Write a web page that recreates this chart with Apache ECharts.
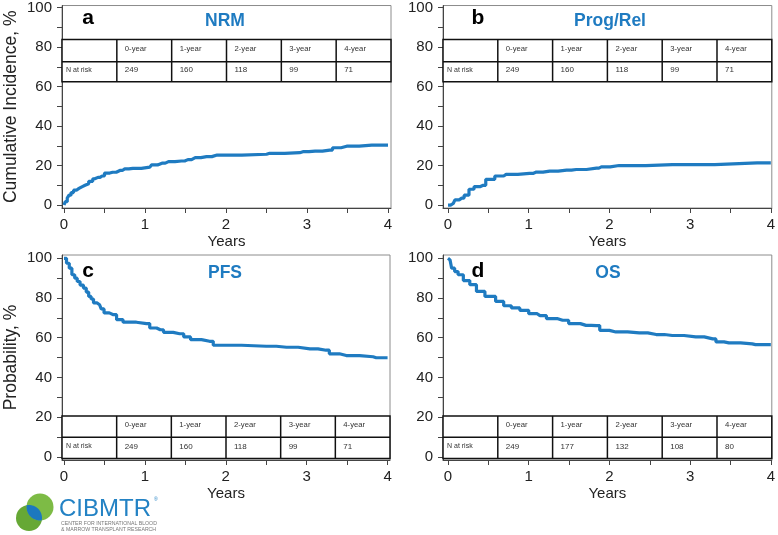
<!DOCTYPE html>
<html><head><meta charset="utf-8">
<script src="https://cdn.jsdelivr.net/npm/echarts@6/dist/echarts.min.js"></script>
<style>html,body{margin:0;padding:0;background:#fff}#c{width:778px;height:535px}</style>
</head><body><div id="c"></div>
<script>
const FONT = '"Liberation Sans", Arial, Helvetica, sans-serif';
const BLUE = '#1f7bc1';

// ---------- data ----------
const xLabelValues = [0, 1, 2, 3, 4];
const xTickValues = [0, 0.5, 1, 1.5, 2, 2.5, 3, 3.5, 4];
const yLabelValues = [0, 20, 40, 60, 80, 100];
const yTickValues = [0, 10, 20, 30, 40, 50, 60, 70, 80, 90, 100];
const xName = 'Years';
const yNameTop = 'Cumulative Incidence, %';
const yNameBottom = 'Probability, %';
const panelLetters = ['a', 'b', 'c', 'd'];
const panelTitles = ['NRM', 'Prog/Rel', 'PFS', 'OS'];
const riskHeaders = ['0-year', '1-year', '2-year', '3-year', '4-year'];
const riskRowLabel = 'N at risk';

const nrmYears  = [0, 0.03, 0.05, 0.074, 0.1, 0.136, 0.17, 0.2, 0.24, 0.28, 0.33, 0.38, 0.42, 0.47, 0.53, 0.6, 0.69, 0.75, 0.85, 1.06, 1.10, 1.21, 1.29, 1.45, 1.53, 1.62, 1.76, 1.89, 2.5, 2.54, 2.91, 2.95, 3.10, 3.28, 3.35, 3.49, 3.80, 4.0];
const nrmValues = [0, 1.7, 3.5, 5, 6.3, 7.5, 8.4, 9.2, 10, 10.8, 12, 13.3, 14, 14.7, 16.2, 16.6, 17.5, 18.3, 18.6, 19.2, 20.3, 21.2, 22, 22.3, 23, 24, 24.5, 25.3, 25.7, 26.2, 26.5, 27, 27.3, 27.8, 29, 29.8, 30.3, 30.3];

const progYears  = [0, 0.065, 0.107, 0.17, 0.23, 0.29, 0.355, 0.436, 0.50, 0.66, 0.72, 1.01, 1.095, 1.26, 1.47, 1.59, 1.84, 1.90, 2.12, 2.78, 3.83, 4.0];
const progValues = [0, 0.8, 2.6, 3.5, 5, 8, 9.3, 10, 13, 14.7, 15.5, 16, 16.7, 17.2, 17.7, 18, 18.7, 19.3, 20, 20.5, 21.3, 21.3];

const pfsYears  = [0, 0.012, 0.05, 0.08, 0.115, 0.15, 0.177, 0.22, 0.26, 0.29, 0.32, 0.35, 0.38, 0.44, 0.48, 0.51, 0.61, 0.69, 0.77, 1.02, 1.10, 1.19, 1.27, 1.43, 1.53, 1.60, 1.80, 1.89, 2.50, 2.75, 3.04, 3.24, 3.32, 3.49, 3.82, 3.86, 4.0];
const pfsValues = [100, 100, 97.5, 95, 91.7, 90, 88.3, 86.5, 85, 83, 80.8, 79.5, 77.5, 76.6, 74.5, 72.5, 71.6, 69.1, 67.8, 67.1, 64.9, 64, 62.7, 62, 60.4, 59, 58.2, 56.2, 55.7, 55.2, 54.4, 53.7, 51.9, 51, 50.4, 49.9, 49.9];

const osYears  = [0, 0.025, 0.065, 0.1, 0.15, 0.23, 0.31, 0.395, 0.52, 0.66, 0.72, 0.85, 0.93, 1.07, 1.14, 1.30, 1.42, 1.57, 1.71, 1.84, 1.92, 2.08, 2.37, 2.58, 2.78, 3.07, 3.28, 3.36, 3.48, 3.77, 3.81, 4.0];
const osValues = [100, 99.2, 95, 93.3, 91.7, 88.8, 86.7, 83.3, 80.8, 78.3, 76.1, 75, 73.8, 72.1, 71.1, 69.6, 68.8, 67.1, 66.2, 66.1, 63.7, 62.9, 62.4, 61.6, 61.1, 60.4, 59.4, 57.9, 57.4, 56.9, 56.5, 56.5];

const nrmRisk  = [249, 160, 118, 99, 71];
const progRisk = [249, 160, 118, 99, 71];
const pfsRisk  = [249, 160, 118, 99, 71];
const osRisk   = [249, 177, 132, 108, 80];

// ---------- layout ----------
const panels = [
  { years: nrmYears, values: nrmValues, risk: nrmRisk, grid: { left: 62, top: 4, width: 329, height: 204 }, x: [-0.0247, 4.037], y: [-1.5, 101], rows: [83.8, 72.6, 62.4], yName: yNameTop, letter: [88, 18], title: [225, 21] },
  { years: progYears, values: progValues, risk: progRisk, grid: { left: 443, top: 4, width: 330, height: 204 }, x: [-0.062, 4.012], y: [-1.5, 101], rows: [83.8, 72.6, 62.4], yName: '', letter: [478, 18], title: [610, 21] },
  { years: pfsYears, values: pfsValues, risk: pfsRisk, grid: { left: 62, top: 255, width: 328, height: 205 }, x: [-0.0247, 4.03], y: [-1.6, 101.66], rows: [20.6, 9.8, -0.8], yName: yNameBottom, letter: [88, 271], title: [225, 273] },
  { years: osYears, values: osValues, risk: osRisk, grid: { left: 443, top: 255, width: 330, height: 205 }, x: [-0.062, 4.012], y: [-1.6, 101.66], rows: [20.6, 9.8, -0.8], yName: '', letter: [478, 271], title: [608, 273] }
];

function tableRenderer(rowEdges, risk) {
  return function (params, api) {
    const cs = params.coordSys;
    const x0 = cs.x, w = cs.width, cw = w / 6;
    const yT = api.coord([0, rowEdges[0]])[1];
    const yM = api.coord([0, rowEdges[1]])[1];
    const yB = api.coord([0, rowEdges[2]])[1];
    const ls = { stroke: '#111', lineWidth: 1.5 };
    const ch = [];
    ch.push({ type: 'rect', shape: { x: x0, y: yT, width: w, height: yB - yT }, style: { fill: '#fff', stroke: '#111', lineWidth: 1.5 } });
    ch.push({ type: 'line', shape: { x1: x0, y1: yM, x2: x0 + w, y2: yM }, style: ls });
    for (let k = 1; k < 6; k++) {
      ch.push({ type: 'line', shape: { x1: x0 + k * cw, y1: yT, x2: x0 + k * cw, y2: yB }, style: ls });
    }
    ch.push({ type: 'text', x: x0 + 4, y: (yM + yB) / 2 - 1.5, style: { text: riskRowLabel, font: '7px ' + FONT, fill: '#333', textAlign: 'left', textVerticalAlign: 'middle', verticalAlign: 'middle' } });
    for (let k = 0; k < 5; k++) {
      const tx = x0 + (k + 1) * cw + 8;
      ch.push({ type: 'text', x: tx, y: (yT + yM) / 2 - 1.5, style: { text: riskHeaders[k], font: '7.7px ' + FONT, fill: '#333', textAlign: 'left', textVerticalAlign: 'middle', verticalAlign: 'middle' } });
      ch.push({ type: 'text', x: tx, y: (yM + yB) / 2 - 1.5, style: { text: String(risk[k]), font: '8px ' + FONT, fill: '#333', textAlign: 'left', textVerticalAlign: 'middle', verticalAlign: 'middle' } });
    }
    return { type: 'group', children: ch };
  };
}

const grids = [], xAxes = [], yAxes = [], series = [], graphics = [];
panels.forEach((p, i) => {
  grids.push(Object.assign({ show: true, borderColor: '#8c8c8c', borderWidth: 1, backgroundColor: 'transparent', containLabel: false }, p.grid));
  xAxes.push({
    gridIndex: i, type: 'value', min: p.x[0], max: p.x[1],
    axisLine: { show: true, onZero: false, lineStyle: { color: '#444', width: 1 } },
    axisTick: { show: true, length: 5, customValues: xTickValues, lineStyle: { color: '#444' } },
    axisLabel: { customValues: xLabelValues, fontSize: 15, color: '#222', margin: 9, fontFamily: FONT },
    splitLine: { show: false },
    name: xName, nameLocation: 'middle', nameGap: 26,
    nameTextStyle: { fontSize: 15, color: '#222', fontFamily: FONT }
  });
  yAxes.push({
    gridIndex: i, type: 'value', min: p.y[0], max: p.y[1],
    axisLine: { show: true, onZero: false, lineStyle: { color: '#444', width: 1 } },
    axisTick: { show: true, length: 5, customValues: yTickValues, lineStyle: { color: '#444' } },
    axisLabel: { customValues: yLabelValues, fontSize: 15, color: '#222', margin: 10, fontFamily: FONT },
    splitLine: { show: false },
    name: p.yName, nameLocation: 'middle', nameGap: 42, nameRotate: 90,
    nameTextStyle: { fontSize: 17.5, color: '#222', fontFamily: FONT }
  });
  series.push({
    type: 'line', xAxisIndex: i, yAxisIndex: i, step: 'middle', showSymbol: false, symbol: 'none',
    data: p.years.map((t, k) => [t, p.values[k]]),
    lineStyle: { color: BLUE, width: 3.2 }, z: 3, silent: true, animation: false
  });
  series.push({
    type: 'custom', xAxisIndex: i, yAxisIndex: i, data: [[0, 50]], clip: false, z: 5, silent: true,
    renderItem: tableRenderer(p.rows, p.risk), animation: false
  });
  graphics.push({ type: 'text', x: p.letter[0], y: p.letter[1], style: { text: panelLetters[i], font: 'bold 21px ' + FONT, fill: '#000', textAlign: 'center', textVerticalAlign: 'middle', verticalAlign: 'middle' }, z: 10 });
  graphics.push({ type: 'text', x: p.title[0], y: p.title[1], style: { text: panelTitles[i], font: 'bold 17.5px ' + FONT, fill: BLUE, textAlign: 'center', textVerticalAlign: 'middle', verticalAlign: 'middle' }, z: 10 });
});

// CIBMTR logo (two circles and their overlap lens)
const c1 = { cx: 29, cy: 518, r: 13 }, c2 = { cx: 40, cy: 507, r: 13.5 };
function lensPoints() {
  const pts = [];
  const mx = (c1.cx + c2.cx) / 2, my = (c1.cy + c2.cy) / 2;
  const inside = (c, x, y) => (x - c.cx) ** 2 + (y - c.cy) ** 2 <= c.r * c.r + 0.01;
  [[c1, c2], [c2, c1]].forEach(([a, b]) => {
    for (let d = 0; d < 360; d += 3) {
      const r = d * Math.PI / 180;
      const x = a.cx + a.r * Math.cos(r), y = a.cy + a.r * Math.sin(r);
      if (inside(b, x, y)) pts.push([x, y, Math.atan2(y - my, x - mx)]);
    }
  });
  pts.sort((p, q) => p[2] - q[2]);
  return pts.map(p => [p[0], p[1]]);
}
graphics.push({ type: 'circle', shape: c1, style: { fill: '#66a835' }, z: 10 });
graphics.push({ type: 'circle', shape: c2, style: { fill: '#7dbb45' }, z: 10 });
graphics.push({ type: 'polygon', shape: { points: lensPoints() }, style: { fill: '#1c78bf' }, z: 11 });
graphics.push({ type: 'text', x: 59, y: 509, style: { text: 'CIBMTR', font: '24px ' + FONT, fill: '#2382c4', textAlign: 'left', textVerticalAlign: 'middle', verticalAlign: 'middle' }, z: 10 });
graphics.push({ type: 'text', x: 154, y: 500, style: { text: '®', font: '5px ' + FONT, fill: '#2382c4', textAlign: 'left', textVerticalAlign: 'middle', verticalAlign: 'middle' }, z: 10 });
graphics.push({ type: 'text', x: 61, y: 523.5, style: { text: 'CENTER FOR INTERNATIONAL BLOOD', font: '5.2px ' + FONT, fill: '#777', textAlign: 'left', textVerticalAlign: 'middle', verticalAlign: 'middle' }, z: 10 });
graphics.push({ type: 'text', x: 61, y: 530, style: { text: '& MARROW TRANSPLANT RESEARCH', font: '5.2px ' + FONT, fill: '#777', textAlign: 'left', textVerticalAlign: 'middle', verticalAlign: 'middle' }, z: 10 });

const chart = echarts.init(document.getElementById('c'), null, { renderer: 'canvas' });
chart.setOption({
  backgroundColor: '#fff',
  animation: false,
  textStyle: { fontFamily: FONT },
  grid: grids, xAxis: xAxes, yAxis: yAxes, series: series,
  graphic: { elements: graphics }
});
</script>
</body></html>
